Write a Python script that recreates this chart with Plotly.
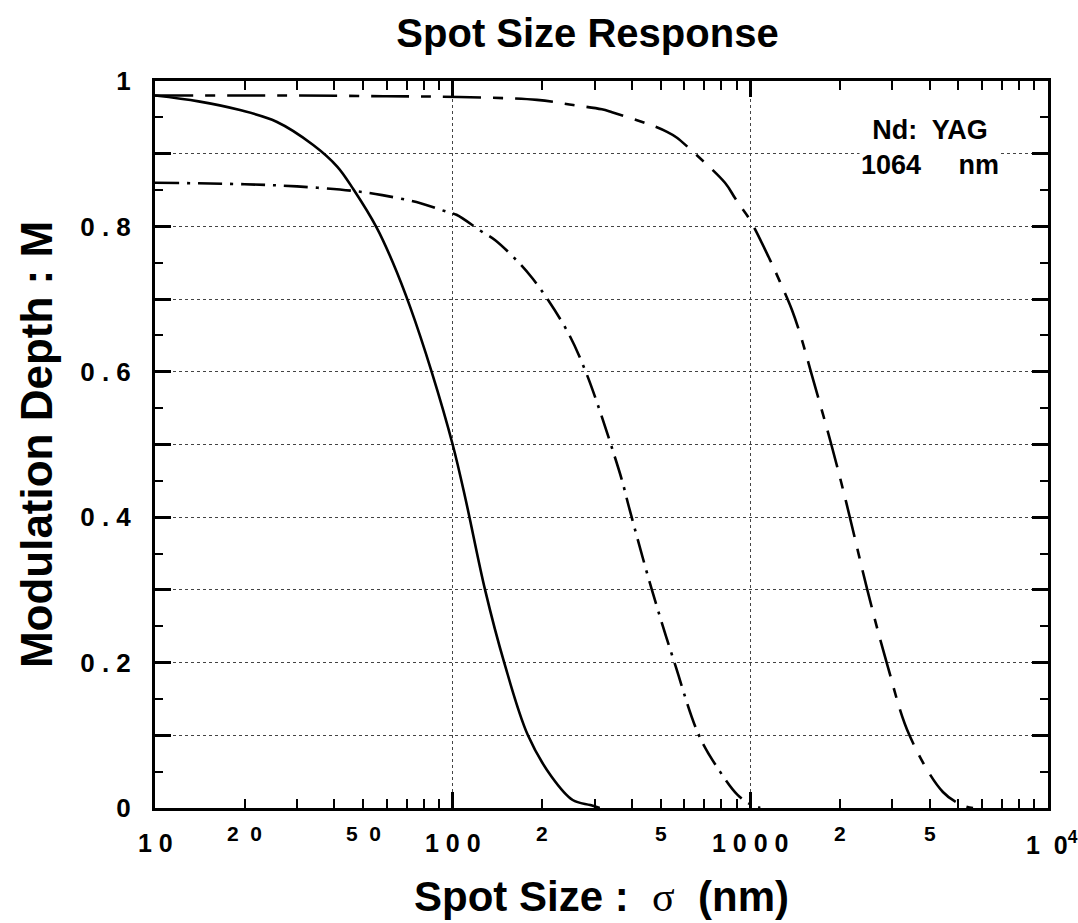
import math
import plotly.graph_objects as go

# ---- data ----
solid_x = [10, 14, 19.3, 25.6, 34, 41, 46.4, 55.6, 63, 72, 85, 100, 110.6, 128.5, 149, 179, 215, 253, 290, 312]
solid_y = [0.980, 0.972, 0.960, 0.944, 0.912, 0.882, 0.851, 0.798, 0.750, 0.689, 0.600, 0.500, 0.424, 0.300, 0.200, 0.100, 0.043, 0.011, 0.004, 0.0]

dashdot_x = [10, 20, 30, 46, 58, 78, 95.7, 103, 124, 139, 166, 185, 209, 247, 280, 310, 340, 371, 391, 467, 556, 672, 791, 906, 1000, 1080]
dashdot_y = [0.860, 0.858, 0.855, 0.849, 0.843, 0.832, 0.820, 0.816, 0.794, 0.781, 0.751, 0.729, 0.699, 0.650, 0.600, 0.550, 0.500, 0.450, 0.414, 0.300, 0.200, 0.100, 0.050, 0.018, 0.005, 0.0]

dash_x = [10, 30, 60, 105, 192, 254, 317, 343, 460, 525, 567, 617, 822, 888, 937, 997, 1164, 1257, 1380, 1480, 1598, 1871, 2104, 2472, 2871, 3425, 4436, 5200, 5600]
dash_y = [0.980, 0.980, 0.979, 0.978, 0.974, 0.967, 0.961, 0.957, 0.940, 0.930, 0.922, 0.909, 0.860, 0.839, 0.825, 0.809, 0.754, 0.724, 0.685, 0.648, 0.600, 0.500, 0.419, 0.300, 0.200, 0.100, 0.022, 0.003, 0.0]

y_tick_vals = [0, 0.1, 0.2, 0.3, 0.4, 0.5, 0.6, 0.7, 0.8, 0.9, 1.0]
y_tick_text = ["0", "", "0 . 2", "", "0 . 4", "", "0 . 6", "", "0 . 8", "", "1"]

x_major_vals = [10, 100, 1000, 10000]
x_major_text = ["1 0", "1 0 0", "1 0 0 0", "1  0<sup>4</sup>"]
x_minor_label_vals = [20, 50, 200, 500, 2000, 4000]
x_minor_label_text = ["2  0", "5  0", "2", "5", "2", "5"]
x_minor_tick_vals = [v * d for d in (10, 100, 1000) for v in range(2, 10)]

FONT = "Liberation Sans, Arial, Helvetica, sans-serif"

fig = go.Figure()
fig.add_trace(go.Scatter(x=solid_x, y=solid_y, mode="lines",
                         line=dict(color="black", width=2.6, shape="spline", smoothing=1.0), showlegend=False))
fig.add_trace(go.Scatter(x=dashdot_x, y=dashdot_y, mode="lines",
                         line=dict(color="black", width=2.6, shape="spline", smoothing=1.0, dash="24px,8px,3px,8px"), showlegend=False))
fig.add_trace(go.Scatter(x=dash_x, y=dash_y, mode="lines",
                         line=dict(color="black", width=2.6, shape="spline", smoothing=1.0, dash="38px,12px,10px,12px"), showlegend=False))

annotations = []
major_shift = {10: 0, 100: 0, 1000: 0, 10000: 4}
for v, t in zip(x_major_vals, x_major_text):
    annotations.append(dict(x=math.log10(v), y=0, xref="x", yref="paper", text=t, showarrow=False,
                            xanchor="center", yanchor="middle", yshift=-35, xshift=major_shift[v],
                            font=dict(family=FONT, size=25, color="black", weight="bold")))
for v, t in zip(x_minor_label_vals, x_minor_label_text):
    annotations.append(dict(x=math.log10(v), y=0, xref="x", yref="paper", text=t, showarrow=False,
                            xanchor="center", yanchor="middle", yshift=-25,
                            font=dict(family=FONT, size=21, color="black", weight="bold")))

# in-plot label
annotations.append(dict(x=0.868, y=0.909, xref="paper", yref="paper", showarrow=False, align="center",
                        xanchor="center", yanchor="middle", bgcolor="white", borderpad=1,
                        text="Nd:  YAG<br>1064     nm", font=dict(family=FONT, size=27, color="black", weight="bold")))

# x-axis title
annotations.append(dict(x=0.5, y=0, xref="paper", yref="paper", showarrow=False, xanchor="center", yanchor="middle", yshift=-88,
                        text="Spot Size :  <span style='font-family:Liberation Serif;font-weight:normal'>σ</span>  (nm)",
                        font=dict(family=FONT, size=42, color="black", weight="bold")))

fig.update_layout(
    width=1078, height=923,
    margin=dict(l=155, r=30, t=81, b=115),
    paper_bgcolor="white", plot_bgcolor="white",
    title=dict(text="Spot Size Response", x=0.545, xanchor="center", y=0.964, yanchor="middle",
               font=dict(family=FONT, size=40, color="black", weight="bold")),
    annotations=annotations,
    xaxis=dict(type="log", range=[1, 4], tickvals=x_major_vals, showticklabels=False,
               ticks="inside", ticklen=16, tickwidth=2.5, tickcolor="black",
               minor=dict(ticks="inside", ticklen=9, tickwidth=2, tickcolor="black", tickvals=x_minor_tick_vals, showgrid=False),
               showline=True, linewidth=3, linecolor="black", mirror="ticks",
               showgrid=True, gridcolor="#444", gridwidth=1, griddash="dot", zeroline=False),
    yaxis=dict(range=[0, 1], tickvals=y_tick_vals, ticktext=y_tick_text,
               ticks="inside", ticklen=16, tickwidth=2.5, tickcolor="black",
               minor=dict(ticks="inside", ticklen=8, tickwidth=2, tickcolor="black", dtick=0.05, tick0=0, showgrid=False),
               showline=True, linewidth=3, linecolor="black", mirror="ticks",
               showgrid=True, gridcolor="#444", gridwidth=1, griddash="dot", zeroline=False,
               tickfont=dict(family=FONT, size=26, color="black", weight="bold"), ticklabelstandoff=16,
               title=dict(text="Modulation Depth : M", font=dict(family=FONT, size=44, color="black", weight="bold"), standoff=14)),
)

fig.write_html("out.html")
